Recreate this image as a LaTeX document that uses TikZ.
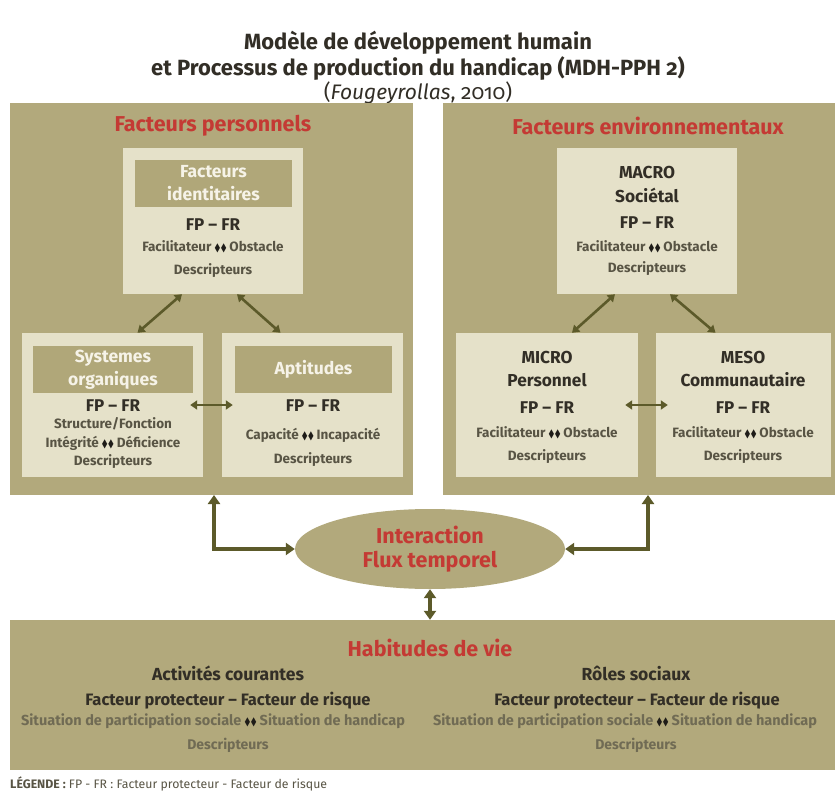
\documentclass[tikz,border=0pt]{standalone}
\usepackage{fontspec}
\setmainfont{Fira Sans}[Numbers=OldStyle]
\newfontfamily\symf{DejaVu Sans}
\usetikzlibrary{shapes.geometric,arrows.meta,calc}
\definecolor{panelc}{RGB}{178,169,124}
\definecolor{boxc}{RGB}{229,225,201}
\definecolor{headc}{RGB}{176,167,121}
\definecolor{headtxt}{RGB}{246,243,232}
\definecolor{redc}{RGB}{196,58,52}
\definecolor{arrc}{RGB}{92,90,42}
\definecolor{darkt}{RGB}{50,46,38}
\definecolor{greyt}{RGB}{88,84,68}
\definecolor{lgreyt}{RGB}{112,107,84}
\definecolor{dmdc}{RGB}{30,28,24}
\newcommand{\onedmd}{\scalebox{0.62}[1.1]{◆}}
\newcommand{\dmd}{{\symf\fontsize{11}{11}\selectfont\color{dmdc}\raisebox{-0.2pt}{\onedmd\kern1pt\onedmd}}}
\begin{document}
\begin{tikzpicture}[x=1pt,y=-1pt,
  panel/.style={fill=panelc,draw=none,inner sep=0pt},
  lbox/.style={fill=boxc,draw=none,inner sep=0pt},
  head/.style={fill=headc,draw=none,inner sep=0pt},
  ttl/.style={font=\fontsize{22}{26}\selectfont\bfseries,text=darkt,inner sep=0pt},
  ptitle/.style={font=\fontsize{21.5}{24}\selectfont\bfseries,text=redc,inner sep=0pt},
  htxt/.style={font=\fontsize{17.5}{23}\selectfont\bfseries,text=headtxt,align=center,inner sep=0pt},
  fpfr/.style={font=\fontsize{17}{19}\selectfont\bfseries,text=darkt,inner sep=0pt},
  btxt/.style={font=\fontsize{13.5}{15}\selectfont\bfseries,text=greyt,inner sep=0pt},
  ntxt/.style={font=\fontsize{17.3}{19}\selectfont\bfseries,text=darkt,inner sep=0pt},
  arr/.style={draw=arrc,line width=2.6pt,{Triangle[length=7pt,width=9pt]}-{Triangle[length=7pt,width=9pt]}},
  bigarr/.style={draw=arrc,line width=4.2pt,{Triangle[length=9pt,width=12pt]}-{Triangle[length=9pt,width=12pt]}}
]
\useasboundingbox (0,0) rectangle (837,794);
\fill[white] (0,0) rectangle (837,794);

% titles
\node[ttl] (t1) at (418,43) {Modèle de développement humain};
\node[ttl] (t2) at (418,68) {et Processus de production du handicap (MDH-PPH 2)};
\node[font=\fontsize{21}{24}\selectfont,text=darkt,inner sep=0pt] (t3) at (418,93) {(\textit{Fougeyrollas}, 2010)};

% panels
\node[panel,minimum width=403pt,minimum height=392pt] (pL) at (211.5,299) {};
\node[panel,minimum width=392pt,minimum height=392pt] (pR) at (639,299) {};
\node[panel,minimum width=825pt,minimum height=150pt] (pB) at (422.5,695) {};

\node[ptitle] (ptL) at (213,126) {Facteurs personnels};
\node[ptitle] (ptR) at (648,126) {Facteurs environnementaux};

% left panel boxes
\node[lbox,minimum width=180pt,minimum height=146pt] (bFI) at (213,221) {};
\node[head,minimum width=157pt,minimum height=47pt] (hFI) at (213.5,183.5) {};
\node[htxt] at (hFI) {Facteurs\\identitaires};
\node[fpfr] at (213,225) {FP – FR};
\node[btxt] at (213,247) {Facilitateur \dmd{} Obstacle};
\node[btxt] at (213,271) {Descripteurs};

\node[lbox,minimum width=181pt,minimum height=144pt] (bSO) at (112.5,405) {};
\node[head,minimum width=160pt,minimum height=47pt] (hSO) at (113,369.5) {};
\node[htxt] at (hSO) {Systemes\\organiques};
\node[fpfr] at (113,406) {FP – FR};
\node[btxt] at (113,424) {Structure/Fonction};
\node[btxt] at (113,443) {Intégrité \dmd{} Déficience};
\node[btxt] at (113,462) {Descripteurs};

\node[lbox,minimum width=181pt,minimum height=144pt] (bAP) at (312.5,405) {};
\node[head,minimum width=157pt,minimum height=47pt] (hAP) at (313.5,369.5) {};
\node[htxt] at (hAP) {Aptitudes};
\node[fpfr] at (313,406) {FP – FR};
\node[btxt] at (313,435) {Capacité \dmd{} Incapacité};
\node[btxt] at (313,460) {Descripteurs};

% right panel boxes
\node[lbox,minimum width=180pt,minimum height=146pt] (bMA) at (647,221) {};
\node[ntxt] at (647,173) {MACRO};
\node[ntxt] at (647,195) {Sociétal};
\node[fpfr] at (647,223) {FP – FR};
\node[btxt] at (647,247) {Facilitateur \dmd{} Obstacle};
\node[btxt] at (647,269) {Descripteurs};

\node[lbox,minimum width=182pt,minimum height=144pt] (bMI) at (547,405) {};
\node[ntxt] at (547,358) {MICRO};
\node[ntxt] at (547,380) {Personnel};
\node[fpfr] at (547,408) {FP – FR};
\node[btxt] at (547,433) {Facilitateur \dmd{} Obstacle};
\node[btxt] at (547,457) {Descripteurs};

\node[lbox,minimum width=175pt,minimum height=144pt] (bME) at (743.5,405) {};
\node[ntxt] at (743,358) {MESO};
\node[ntxt] at (743,380) {Communautaire};
\node[fpfr] at (743,408) {FP – FR};
\node[btxt] at (743,433) {Facilitateur \dmd{} Obstacle};
\node[btxt] at (743,457) {Descripteurs};

% arrows inside panels
\draw[arr] ([xshift=-31pt]bFI.south) -- ([xshift=25pt]bSO.north);
\draw[arr] ([xshift=24pt]bFI.south) -- ([xshift=-32pt]bAP.north);
\draw[arr] ([xshift=-13pt]bSO.east) -- ([xshift=11pt]bAP.west);
\draw[arr] ([xshift=-32pt]bMA.south) -- ([xshift=25pt]bMI.north);
\draw[arr] ([xshift=23pt]bMA.south) -- ([xshift=-28pt]bME.north);
\draw[arr] ([xshift=-13pt]bMI.east) -- ([xshift=12pt]bME.west);

% ellipse
\node[ellipse,fill=panelc,minimum width=270pt,minimum height=80pt,inner sep=0pt] (ell) at (430,549) {};
\node[font=\fontsize{21.5}{24}\selectfont\bfseries,text=redc,align=center,inner sep=0pt] at (ell) {Interaction\\Flux temporel};

\coordinate (cL) at (214,495);
\coordinate (cR) at (648,495);
\draw[bigarr] (ell.west) -| (cL);
\draw[bigarr] (ell.east) -| (cR);
\draw[bigarr] (ell.south) -- (ell.south |- pB.north);

% bottom panel
\node[ptitle] (ptB) at (430,648) {Habitudes de vie};
\node[font=\fontsize{17.5}{20}\selectfont\bfseries,text=darkt,inner sep=0pt] at (228,673) {Activités courantes};
\node[font=\fontsize{17.5}{20}\selectfont\bfseries,text=darkt,inner sep=0pt] at (636,673) {Rôles sociaux};
\node[font=\fontsize{16.5}{19}\selectfont\bfseries,text=darkt,inner sep=0pt] at (228,701) {Facteur protecteur – Facteur de risque};
\node[font=\fontsize{16.5}{19}\selectfont\bfseries,text=darkt,inner sep=0pt] at (637,701) {Facteur protecteur – Facteur de risque};
\node[font=\fontsize{14.5}{16}\selectfont\bfseries,text=lgreyt,inner sep=0pt] at (213,721) {Situation de participation sociale \dmd{} Situation de handicap};
\node[font=\fontsize{14.5}{16}\selectfont\bfseries,text=lgreyt,inner sep=0pt] at (625,721) {Situation de participation sociale \dmd{} Situation de handicap};
\node[font=\fontsize{14}{16}\selectfont\bfseries,text=lgreyt,inner sep=0pt] at (228,745) {Descripteurs};
\node[font=\fontsize{14}{16}\selectfont\bfseries,text=lgreyt,inner sep=0pt] at (636,745) {Descripteurs};

% legend
\node[anchor=west,font=\fontsize{12.3}{14}\selectfont,text=greyt,inner sep=0pt] (leg) at (10,784) {\textbf{LÉGENDE :} FP - FR : Facteur protecteur - Facteur de risque};
\end{tikzpicture}
\end{document}
